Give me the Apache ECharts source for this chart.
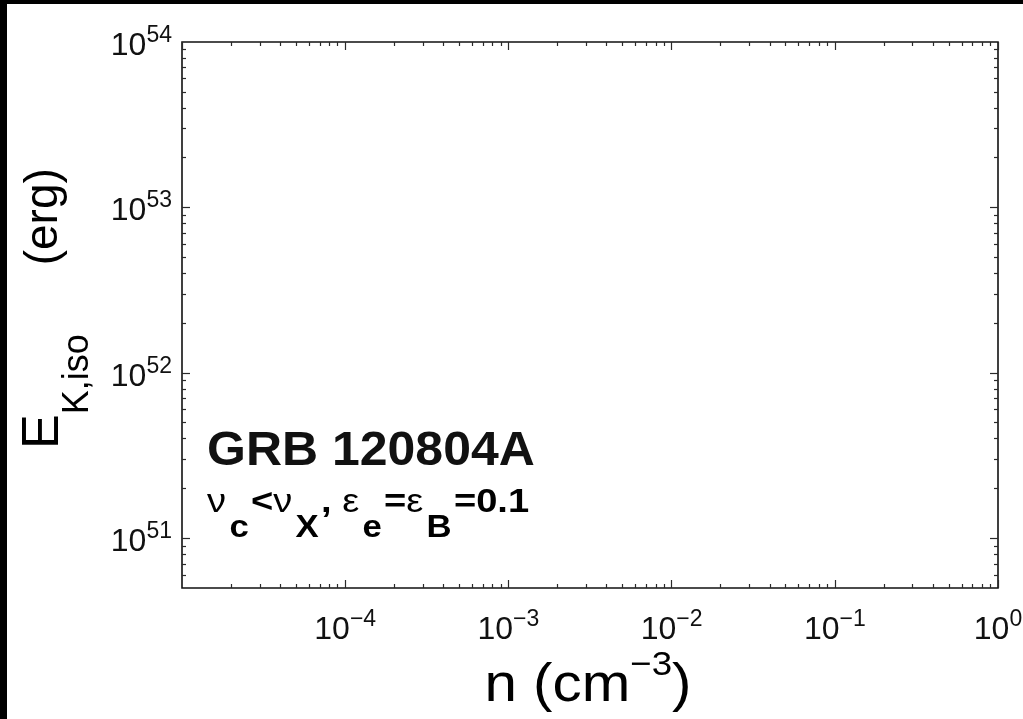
<!DOCTYPE html>
<html>
<head>
<meta charset="utf-8">
<script src="https://cdn.jsdelivr.net/npm/echarts@6/dist/echarts.min.js"></script>
<style>
  html, body { margin: 0; padding: 0; background: #000; }
  #sheet { position: absolute; left: 7px; top: 4px; width: 1016px; height: 715px; background: #fff; }
  #chart { width: 1016px; height: 715px; }
</style>
</head>
<body>
<div id="sheet"><div id="chart"></div></div>
<script>
// Axis ranges: ambient density n (cm^-3) and isotropic kinetic energy (erg)
const densityRange = [1e-5, 1];
const energyRange = [5e50, 1e54];

// Decade ticks (labelled by the axis itself, lowest decade left unlabelled)
const densityDecades = [1e-5, 1e-4, 1e-3, 1e-2, 1e-1, 1];
const energyDecades = [1e50, 1e51, 1e52, 1e53, 1e54];
const minorSteps = [2, 3, 4, 5, 6, 7, 8, 9];

// Annotation text
const burstName = 'GRB 120804A';

const FONT = '"Liberation Sans", Arial, Helvetica, sans-serif';
const INK = '#111';
const TICK = '#2a2a2a';

function minorValues(decades, range) {
  const out = [];
  decades.forEach(d => minorSteps.forEach(s => {
    const v = d * s;
    if (v > range[0] && v < range[1]) out.push(v);
  }));
  return out;
}
const densityMinor = minorValues(densityDecades, densityRange);
const energyMinor = minorValues(energyDecades, energyRange);

function powerLabel(value) {
  const e = Math.round(Math.log10(value));
  const exp = e < 0 ? '\u2212' + (-e) : String(e);
  return '{b|10}{e|' + exp + '}';
}
const powerRich = {
  b: { fontFamily: FONT, fontSize: 32, color: INK, verticalAlign: 'bottom', lineHeight: 40 },
  e: { fontFamily: FONT, fontSize: 23, color: INK, verticalAlign: 'top', padding: [2, 0, 0, 0] }
};

function axisDef(position, range, ticks, len, labelMargin) {
  return {
    type: 'log',
    logBase: 10,
    min: range[0],
    max: range[1],
    position: position,
    axisLine: { show: false },
    splitLine: { show: false },
    axisTick: {
      show: true, inside: true, length: len, customValues: ticks,
      lineStyle: { color: TICK, width: 1.2 }
    },
    axisLabel: labelMargin != null ? {
      show: true, formatter: powerLabel, rich: powerRich,
      margin: labelMargin, color: INK, showMinLabel: false, showMaxLabel: true
    } : { show: false }
  };
}

const chart = echarts.init(document.getElementById('chart'), null, { renderer: 'canvas' });

chart.setOption({
  animation: false,
  backgroundColor: '#fff',
  grid: {
    left: 175, top: 38, width: 816, height: 546,
    show: true, borderColor: '#111', borderWidth: 1.6, backgroundColor: '#fff',
    containLabel: false, outerBoundsMode: 'none'
  },
  xAxis: [
    axisDef('bottom', densityRange, densityDecades, 8, 18),
    axisDef('bottom', densityRange, densityMinor, 4),
    axisDef('top', densityRange, densityDecades, 8),
    axisDef('top', densityRange, densityMinor, 4)
  ],
  yAxis: [
    axisDef('left', energyRange, energyDecades, 8, 10),
    axisDef('left', energyRange, energyMinor, 4),
    axisDef('right', energyRange, energyDecades, 8),
    axisDef('right', energyRange, energyMinor, 4)
  ],
  series: [],
  graphic: [
    {
      // x-axis title: n (cm^-3)
      type: 'text',
      x: 581, y: 641,
      scaleX: 1.08,
      style: {
        text: '{m|n (cm}{s|\u22123}{m|)}',
        align: 'center', verticalAlign: 'top',
        rich: {
          m: { fontFamily: FONT, fontSize: 54, color: INK, verticalAlign: 'bottom', lineHeight: 68 },
          s: { fontFamily: FONT, fontSize: 34, color: INK, verticalAlign: 'top', padding: [4, 0, 0, 0] }
        }
      }
    },
    {
      // y-axis title: E_K,iso (erg), reading upward
      type: 'text',
      x: 11, y: 445,
      rotation: Math.PI / 2,
      style: {
        text: '{m|E}{s|K,iso}{p|(erg)}',
        align: 'left', verticalAlign: 'top',
        rich: {
          m: { fontFamily: FONT, fontSize: 52, color: INK, verticalAlign: 'top', lineHeight: 78 },
          p: { fontFamily: FONT, fontSize: 46, color: INK, verticalAlign: 'top', padding: [3, 0, 0, 69] },
          s: { fontFamily: FONT, fontSize: 36, color: INK, verticalAlign: 'bottom' }
        }
      }
    },
    {
      type: 'text',
      x: 200, y: 447,
      scaleX: 1.02,
      style: {
        text: burstName,
        fontFamily: FONT, fontSize: 49, fontWeight: 'bold', fill: INK,
        align: 'left', verticalAlign: 'middle'
      }
    },
    {
      // ν_c < ν_X, ε_e = ε_B = 0.1
      type: 'text',
      x: 200, y: 482,
      scaleX: 1.12,
      style: {
        text: '{g|\u03bd}{s|c}{b|<}{g|\u03bd}{s|X}{b|, }{g|\u03b5}{s|e}{b|=}{g|\u03b5}{s|B}{b|=0.1}',
        align: 'left', verticalAlign: 'top',
        rich: {
          g: { fontFamily: FONT, fontSize: 34, color: INK, verticalAlign: 'top', lineHeight: 58 },
          b: { fontFamily: FONT, fontSize: 34, fontWeight: 'bold', color: INK, verticalAlign: 'top' },
          s: { fontFamily: FONT, fontSize: 31, fontWeight: 'bold', color: INK, verticalAlign: 'bottom', padding: [0, 2, 0, 3] }
        }
      }
    }
  ]
});
</script>
</body>
</html>
